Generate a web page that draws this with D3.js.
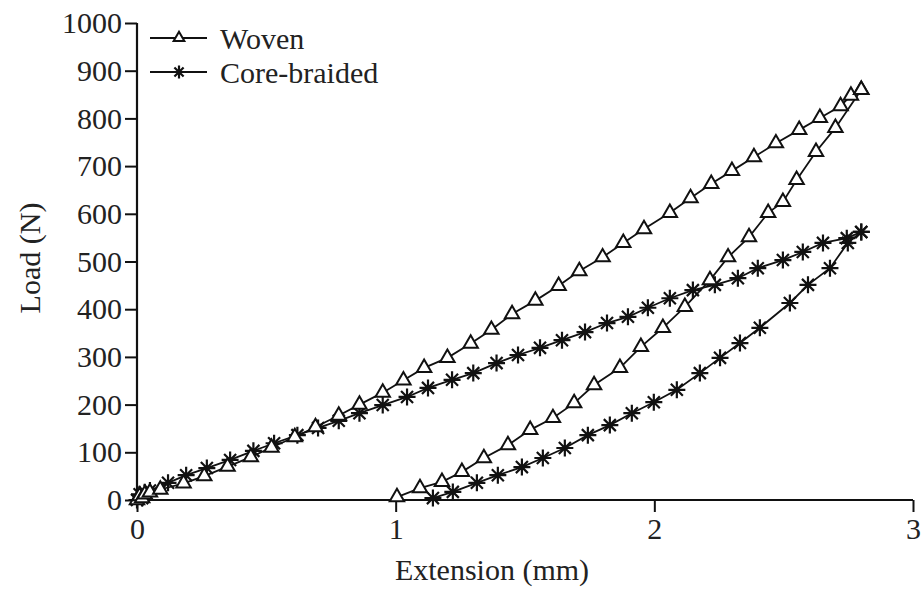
<!DOCTYPE html>
<html>
<head>
<meta charset="utf-8">
<script src="https://cdn.jsdelivr.net/npm/d3@7"></script>
<style>
  body { margin: 0; background: #fff; }
  svg text { font-family: "Liberation Serif", "DejaVu Serif", serif; fill: #222; }
</style>
</head>
<body>
<div id="chart"></div>
<script>
// load / unload curves, [extension mm, load N]
let wovenLoad = [[0, 0], [0.01, 8], [0.02, 4], [0.03, 12], [0.05, 16], [0.09, 22],
  [0.18, 35], [0.26, 50], [0.35, 70], [0.44, 90], [0.52, 110], [0.61, 132], [0.69, 153],
  [0.78, 177], [0.86, 200], [0.95, 225], [1.03, 251], [1.11, 277], [1.20, 298], [1.29, 328],
  [1.37, 357], [1.45, 390], [1.54, 418], [1.63, 449], [1.71, 480], [1.80, 509], [1.88, 539],
  [1.96, 568], [2.06, 602], [2.14, 633], [2.22, 663], [2.30, 690], [2.385, 719], [2.47, 748],
  [2.56, 776], [2.64, 801], [2.72, 826], [2.76, 848], [2.80, 860]]
let wovenUnload = [[2.80, 860], [2.70, 780], [2.625, 730], [2.55, 671], [2.497, 625],
  [2.44, 602], [2.366, 551], [2.285, 509], [2.215, 461], [2.118, 405], [2.033, 361],
  [1.948, 321], [1.867, 277], [1.767, 241], [1.69, 203], [1.608, 172], [1.52, 147],
  [1.434, 115], [1.341, 88], [1.256, 59], [1.179, 38], [1.094, 25], [1.005, 6]]
let coreLoad = [[0, 0], [0.01, 12], [0.02, 4], [0.03, 16], [0.05, 20], [0.12, 36],
  [0.19, 52], [0.27, 67], [0.36, 84], [0.45, 103], [0.53, 119], [0.62, 136], [0.70, 151],
  [0.78, 166], [0.86, 182], [0.95, 199], [1.044, 216], [1.125, 235], [1.218, 252], [1.30, 266],
  [1.39, 287], [1.473, 304], [1.558, 319], [1.643, 335], [1.732, 352], [1.817, 371],
  [1.898, 384], [1.975, 403], [2.06, 423], [2.149, 440], [2.234, 451], [2.323, 465],
  [2.40, 486], [2.497, 503], [2.574, 520], [2.652, 539], [2.744, 549], [2.80, 562]]
let coreUnload = [[2.80, 562], [2.748, 539], [2.679, 486], [2.594, 451], [2.524, 413],
  [2.408, 361], [2.331, 329], [2.254, 298], [2.176, 266], [2.087, 231], [1.998, 205],
  [1.913, 182], [1.828, 157], [1.743, 136], [1.654, 109], [1.569, 88], [1.488, 69],
  [1.395, 52], [1.314, 36], [1.221, 17], [1.144, 4]]
let seriesNames = ["Woven", "Core-braided"]
let xTicks = [0, 1, 2, 3]
let yTicks = [0, 100, 200, 300, 400, 500, 600, 700, 800, 900, 1000]

let width = 922
let height = 592
let svg = d3.select("#chart").append("svg")
  .attr("width", width)
  .attr("height", height)

let x = d3.scaleLinear().domain([0, 3]).range([137, 913])
let y = d3.scaleLinear().domain([0, 1000]).range([500, 23])

// axes
let xAxis = svg.append("g")
  .attr("transform", "translate(0,500)")
  .call(d3.axisBottom(x).tickValues(xTicks).tickFormat(d3.format("d")).tickSize(12).tickPadding(6))
let yAxis = svg.append("g")
  .attr("transform", "translate(137,0)")
  .call(d3.axisLeft(y).tickValues(yTicks).tickFormat(d3.format("d")).tickSize(12).tickPadding(3))
svg.selectAll(".domain").attr("stroke", "#111").attr("stroke-width", 2.2)
svg.selectAll(".tick line").attr("stroke", "#111").attr("stroke-width", 2)
svg.selectAll(".tick text").style("font-size", "30px").attr("fill", "#222")
  .style("font-family", '"Liberation Serif", serif')
// d3 draws the outer tick as part of the domain path; rebuild as plain lines
xAxis.select(".domain").attr("d", "M" + x(0) + ",0H" + x(3))
yAxis.select(".domain").attr("d", "M0," + y(0) + "V" + y(1000))

svg.append("text")
  .attr("x", 492)
  .attr("y", 580)
  .attr("text-anchor", "middle")
  .style("font-size", "30px")
  .text("Extension (mm)")
svg.append("text")
  .attr("transform", "translate(40,258) rotate(-90)")
  .attr("text-anchor", "middle")
  .style("font-size", "30px")
  .text("Load (N)")

let line = d3.line().x(d => x(d[0])).y(d => y(d[1]))

function triangle(g, cx, cy, s) {
  g.append("path")
    .attr("d", d3.symbol(d3.symbolTriangle, s)())
    .attr("transform", "translate(" + cx + "," + cy + ")")
    .attr("fill", "#fff")
    .attr("stroke", "#111")
    .attr("stroke-width", 2)
}
function star(g, cx, cy, r) {
  let d = ""
  for (let i = 0; i < 4; i++) {
    let a = i * Math.PI / 4
    let dx = r * Math.cos(a), dy = r * Math.sin(a)
    d += "M" + (cx - dx) + "," + (cy - dy) + "L" + (cx + dx) + "," + (cy + dy)
  }
  g.append("path").attr("d", d)
    .attr("stroke", "#111")
    .attr("stroke-width", 2.2)
    .attr("fill", "none")
}

let plot = svg.append("g")
;[wovenLoad, wovenUnload, coreLoad, coreUnload].forEach(data => {
  plot.append("path")
    .attr("d", line(data))
    .attr("fill", "none")
    .attr("stroke", "#111")
    .attr("stroke-width", 1.8)
})
coreLoad.concat(coreUnload).forEach(d => star(plot, x(d[0]), y(d[1]), 8.5))
wovenLoad.concat(wovenUnload).forEach(d => triangle(plot, x(d[0]), y(d[1]), 90))

// legend
let legend = svg.append("g")
seriesNames.forEach((name, i) => {
  let ly = 38 + i * 34
  legend.append("line")
    .attr("x1", 150).attr("x2", 207)
    .attr("y1", ly).attr("y2", ly)
    .attr("stroke", "#111").attr("stroke-width", 2)
  if (i === 0) triangle(legend, 179, ly, 50)
  else star(legend, 179, ly, 6.5)
  legend.append("text")
    .attr("x", 220)
    .attr("y", ly)
    .attr("dy", "0.35em")
    .style("font-size", "30px")
    .text(name)
})
</script>
</body>
</html>
